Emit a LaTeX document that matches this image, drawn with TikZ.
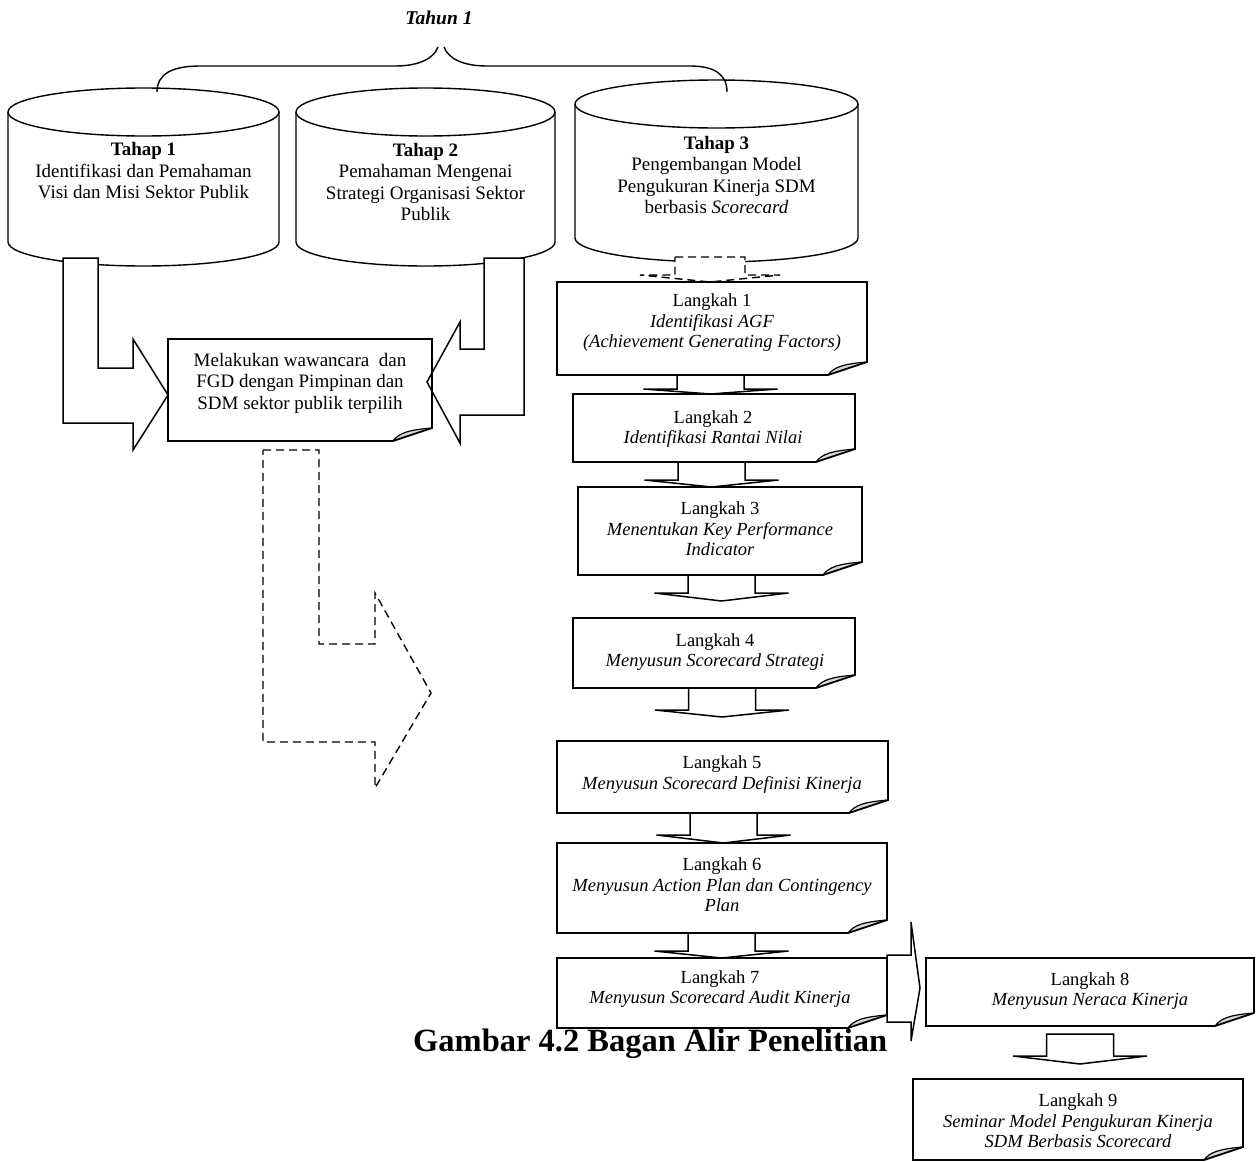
\documentclass[tikz,border=0pt]{standalone}
\usepackage{fontspec}
\setmainfont{Liberation Serif}
\usetikzlibrary{calc}
\newcommand\foldbox[1]{%
  \fill[gray!30] ($(#1.south east)+(-39,0)$) .. controls ($(#1.south east)+(-33,-8)$) and ($(#1.south east)+(-24,-11)$) .. ($(#1.south east)+(0,-13)$) -- cycle;
  \draw[outline] ($(#1.south east)+(0,-13)$) -- (#1.north east) -- (#1.north west) -- (#1.south west) -- ($(#1.south east)+(-39,0)$) -- cycle;
  \draw[foldline] ($(#1.south east)+(-39,0)$) .. controls ($(#1.south east)+(-33,-8)$) and ($(#1.south east)+(-24,-11)$) .. ($(#1.south east)+(0,-13)$);
}
\newcommand\drawcyl[3]{%
  \draw[cylline] ($(#1.north)+(0,#3)$) ellipse [x radius=#2pt, y radius=#3pt];
  \draw[cylline] ($(#1.north west)+(0,#3)$) -- ($(#1.south west)+(0,-#3)$) arc[start angle=180, end angle=360, x radius=#2pt, y radius=#3pt] -- ($(#1.north east)+(0,#3)$);
}
\newcommand\downblock[6]{%
  \coordinate (dbx) at (#3,0);
  \draw[blockarrow] ($(dbx |- #1.south)+(-33.5,#4)$) -- ($(dbx |- #1.south)+(33.5,#4)$) -- ($(dbx |- #2.north)+(33.5,-#5-#6)$) -- ($(dbx |- #2.north)+(67,-#5-#6)$) -- ($(dbx |- #2.north)+(0,-#5)$) -- ($(dbx |- #2.north)+(-67,-#5-#6)$) -- ($(dbx |- #2.north)+(-33.5,-#5-#6)$) -- cycle;
}
\begin{document}
\begin{tikzpicture}[x=1pt,y=-1pt,line join=miter,
  outline/.style={draw=black, line width=1.8pt},
  foldline/.style={draw=black, line width=1.2pt},
  cylline/.style={draw=black, line width=1.4pt},
  blockarrow/.style={draw=black, fill=white, line width=1.5pt},
  dasharrow/.style={draw=black, fill=white, line width=1.4pt, dash pattern=on 8pt off 5pt},
  boxshape/.style={rectangle, draw=none, inner sep=0pt, outer sep=0pt},
  ctext/.style={align=center, font=\fontsize{19}{21.5}\selectfont, inner sep=0pt},
  ltext/.style={align=center, font=\fontsize{18.5}{20.5}\selectfont, inner sep=0pt},
]
\useasboundingbox (0,0) rectangle (1256,1162);

% title and brace
\node[font=\fontsize{19.5}{22}\selectfont\bfseries\itshape, anchor=base] (tahun) at (439,24) {Tahun 1};
\draw[cylline] (157,92) .. controls (157,74) and (172,66) .. (200,66) -- (395,66) .. controls (420,66) and (434,58) .. (438,47);
\draw[cylline] (444,47) .. controls (448,58) and (462,66) .. (487,66) -- (690,66) .. controls (714,66) and (727,74) .. (727,92);

% cylinders
\node[boxshape, minimum width=271pt, minimum height=178pt] (cyl1) at (143.5,177) {};
\node[boxshape, minimum width=259pt, minimum height=178pt] (cyl2) at (425.5,177) {};
\node[boxshape, minimum width=283pt, minimum height=182pt] (cyl3) at (716.5,171) {};
\drawcyl{cyl1}{135.5}{24}
\drawcyl{cyl2}{129.5}{24}
\drawcyl{cyl3}{141.5}{24}
\node[ctext] (cyl1t) at (143.5,171) {\textbf{Tahap 1}\\Identifikasi dan Pemahaman\\Visi dan Misi Sektor Publik};
\node[ctext] (cyl2t) at (425.5,182) {\textbf{Tahap 2}\\Pemahaman Mengenai\\Strategi Organisasi Sektor\\Publik};
\node[ctext] (cyl3t) at (716.5,175) {\textbf{Tahap 3}\\Pengembangan Model\\Pengukuran Kinerja SDM\\berbasis \textit{Scorecard}};

% boxes (positions)
\node[boxshape, minimum width=264pt, minimum height=102pt] (M) at (300,390) {};
\node[boxshape, minimum width=310pt, minimum height=93pt] (L1) at (712,328.5) {};
\node[boxshape, minimum width=282pt, minimum height=68pt] (L2) at (714,428) {};
\node[boxshape, minimum width=284pt, minimum height=88pt] (L3) at (720,531) {};
\node[boxshape, minimum width=282pt, minimum height=70pt] (L4) at (714,653) {};
\node[boxshape, minimum width=331pt, minimum height=72pt] (L5) at (722.5,777) {};
\node[boxshape, minimum width=330pt, minimum height=90pt] (L6) at (722,888) {};
\node[boxshape, minimum width=330pt, minimum height=70pt] (L7) at (722,993) {};
\node[boxshape, minimum width=328pt, minimum height=68pt] (L8) at (1090,992) {};
\node[boxshape, minimum width=330pt, minimum height=81pt] (L9) at (1078,1119.5) {};

% arrows from cylinders
\draw[blockarrow] (63,258) -- (98,258) -- (98,368) -- (133,368) -- (133,339) -- ($(M.west)+(0,5)$) -- (133,450) -- (133,423) -- (63,423) -- cycle;
\draw[blockarrow] (524,258) -- (484,258) -- (484,349) -- (460,349) -- (460,322) -- ($(M.east)+(-5,-8)$) -- (460,443) -- (460,415) -- (524,415) -- cycle;
\coordinate (dtip) at (431,693);
\draw[dasharrow] (263,450) -- (319,450) -- (319,644) -- (375,644) -- (375,593) -- (dtip) -- (375,788) -- (375,742) -- (263,742) -- cycle;
\coordinate (c31) at (710,0);
\draw[dasharrow] (675,257) -- (745,257) -- (745,275) -- (780,275) -- (c31 |- L1.north) -- (640,275) -- (675,275) -- cycle;

% down arrows
\downblock{L1}{L2}{710.5}{0}{0}{5}
\downblock{L2}{L3}{711.5}{0}{0}{7}
\downblock{L3}{L4}{721.5}{0}{17}{8}
\downblock{L4}{L5}{722}{0}{24}{7}
\downblock{L5}{L6}{723.5}{0}{0}{8}
\downblock{L6}{L7}{721.5}{0}{0}{7}
\downblock{L8}{L9}{1080}{8}{15}{8}
\draw[blockarrow] ($(L7.north east)+(0,-3)$) -- ($(L7.north east)+(24,-3)$) -- ($(L7.north east)+(24,-36)$) -- ($(L7.north east)+(33,30)$) -- ($(L7.north east)+(24,83)$) -- ($(L7.north east)+(24,64)$) -- ($(L7.north east)+(0,64)$) -- cycle;

% box outlines
\foldbox{M}
\foldbox{L1}
\foldbox{L2}
\foldbox{L3}
\foldbox{L4}
\foldbox{L5}
\foldbox{L6}
\foldbox{L7}
\foldbox{L8}
\foldbox{L9}

% box texts
\node[ctext] (Mt) at (300,383) {Melakukan wawancara\ \ dan\\FGD dengan Pimpinan dan\\SDM sektor publik terpilih};
\node[ltext] (L1t) at (712,323) {Langkah 1\\\textit{Identifikasi AGF}\\\textit{(Achievement Generating Factors)}};
\node[ltext] (L2t) at (713,429) {Langkah 2\\\textit{Identifikasi Rantai Nilai}};
\node[ltext] (L3t) at (720,529) {Langkah 3\\\textit{Menentukan Key Performance}\\\textit{Indicator}};
\node[ltext] (L4t) at (715,652) {Langkah 4\\\textit{Menyusun Scorecard Strategi}};
\node[ltext] (L5t) at (722,774.5) {Langkah 5\\\textit{Menyusun Scorecard Definisi Kinerja}};
\node[ltext] (L6t) at (722,885) {Langkah 6\\\textit{Menyusun Action Plan dan Contingency}\\\textit{Plan}};
\node[ltext] (L7t) at (720,989) {Langkah 7\\\textit{Menyusun Scorecard Audit Kinerja}};
\node[ltext] (L8t) at (1090,991) {Langkah 8\\\textit{Menyusun Neraca Kinerja}};
\node[ltext] (L9t) at (1078,1121) {Langkah 9\\\textit{Seminar Model Pengukuran Kinerja}\\\textit{SDM Berbasis Scorecard}};

% caption
\node[font=\fontsize{32.5}{36}\selectfont\bfseries, anchor=base west, inner sep=0pt] (cap) at (413,1051) {Gambar 4.2 Bagan Alir Penelitian};
\end{tikzpicture}
\end{document}
